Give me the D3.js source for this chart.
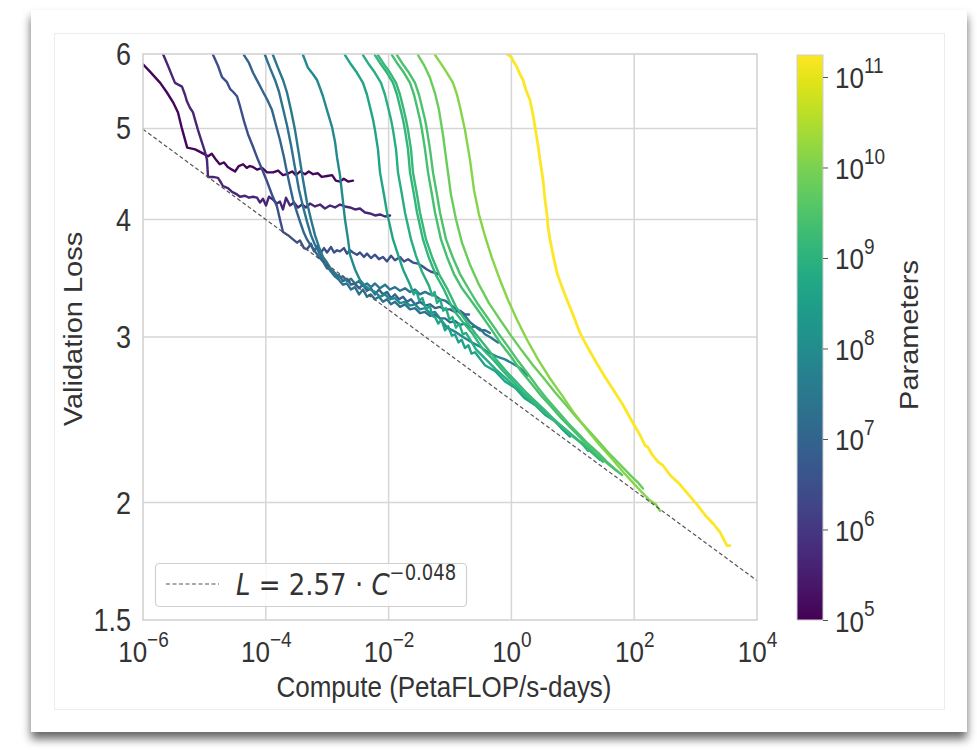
<!DOCTYPE html>
<html><head><meta charset="utf-8">
<script src="https://cdn.jsdelivr.net/npm/d3@7"></script>
<style>
html,body{margin:0;padding:0;background:#fff;}
svg{display:block;}
</style></head>
<body>
<svg id="chart" width="977" height="750"></svg>
<script>
// ---------- DATA ----------
const xTickValues = [1e-6, 1e-4, 1e-2, 1, 1e2, 1e4];
const xTickExp = ["\u22126", "\u22124", "\u22122", "0", "2", "4"];
const yTickValues = [1.5, 2, 3, 4, 5, 6];
const yTickLabels = ["1.5", "2", "3", "4", "5", "6"];
const cbTickValues = [1e5, 1e6, 1e7, 1e8, 1e9, 1e10, 1e11];
const cbTickExp = ["5", "6", "7", "8", "9", "10", "11"];
const fitCompute = [1e-6, 1e4];
const fitLoss = [4.99, 1.652];
const fitLabel = ["L", " = 2.57 \u00b7 ", "C", "\u22120.048"];

// model sizes (parameters), one per run
const modelParams = [1.25e5, 4.7e5, 3.1e6, 9.8e6, 2.1e7, 2.9e7, 8.9e7, 4.3e8, 8.3e8, 1.3e9, 1.5e9, 2.5e9, 3.0e9, 6.6e9, 1.26e10, 1.75e11];

// runs: [log10(compute PF-days), validation loss]
const runA = [[-6.00,5.85],[-5.89,5.75],[-5.72,5.59],[-5.61,5.46],[-5.51,5.33],[-5.43,5.20],[-5.37,5.01],[-5.28,4.77],[-5.15,4.75],[-5.04,4.71],[-4.94,4.67],[-4.88,4.70],[-4.81,4.63],[-4.75,4.58],[-4.68,4.60],[-4.62,4.55],[-4.55,4.52],[-4.50,4.50],[-4.44,4.56],[-4.37,4.58],[-4.31,4.54],[-4.26,4.56],[-4.21,4.55],[-4.14,4.52],[-4.06,4.54],[-3.98,4.49],[-3.88,4.49],[-3.80,4.51],[-3.72,4.46],[-3.66,4.47],[-3.57,4.50],[-3.51,4.46],[-3.44,4.50],[-3.36,4.47],[-3.30,4.50],[-3.23,4.47],[-3.15,4.48],[-3.09,4.44],[-3.00,4.45],[-2.92,4.46],[-2.86,4.40],[-2.79,4.39],[-2.73,4.42],[-2.66,4.39],[-2.58,4.40]];
const runB = [[-5.674,6.0],[-5.593,5.83],[-5.528,5.69],[-5.479,5.59],[-5.365,5.54],[-5.316,5.43],[-5.283,5.34],[-5.235,5.26],[-5.186,5.20],[-5.153,5.11],[-5.104,4.98],[-5.039,4.83],[-4.990,4.72],[-4.958,4.63],[-4.941,4.44],[-4.860,4.44],[-4.779,4.43],[-4.730,4.38],[-4.697,4.34],[-4.616,4.32],[-4.550,4.28],[-4.485,4.26],[-4.420,4.23],[-4.339,4.24],[-4.274,4.22],[-4.208,4.23],[-4.143,4.22],[-4.094,4.17],[-4.046,4.21],[-3.997,4.14],[-3.948,4.23],[-3.883,4.20],[-3.818,4.16],[-3.769,4.18],[-3.720,4.10],[-3.671,4.22],[-3.606,4.14],[-3.541,4.17],[-3.476,4.12],[-3.410,4.15],[-3.345,4.12],[-3.280,4.16],[-3.199,4.13],[-3.117,4.15],[-3.036,4.11],[-2.954,4.14],[-2.873,4.12],[-2.792,4.15],[-2.710,4.13],[-2.629,4.12],[-2.547,4.10],[-2.466,4.11],[-2.384,4.07],[-2.303,4.06],[-2.222,4.04],[-2.140,4.05],[-2.059,4.03],[-1.977,4.04]];
const runC = [[-4.860,5.99],[-4.779,5.83],[-4.713,5.67],[-4.632,5.60],[-4.583,5.51],[-4.534,5.47],[-4.469,5.41],[-4.420,5.28],[-4.355,5.09],[-4.290,4.93],[-4.208,4.78],[-4.127,4.63],[-4.046,4.50],[-3.980,4.39],[-3.899,4.25],[-3.818,4.13],[-3.769,4.00],[-3.720,3.88],[-3.638,3.85],[-3.557,3.81],[-3.492,3.78],[-3.443,3.80],[-3.378,3.73],[-3.329,3.72],[-3.264,3.77],[-3.215,3.70],[-3.166,3.75],[-3.101,3.69],[-3.052,3.73],[-3.003,3.69],[-2.938,3.74],[-2.889,3.69],[-2.840,3.71],[-2.792,3.70],[-2.727,3.73],[-2.678,3.68],[-2.629,3.71],[-2.580,3.69],[-2.515,3.67],[-2.466,3.69],[-2.401,3.65],[-2.352,3.68],[-2.287,3.64],[-2.222,3.67],[-2.157,3.63],[-2.091,3.65],[-2.026,3.61],[-1.961,3.66],[-1.896,3.62],[-1.814,3.65],[-1.749,3.61],[-1.684,3.63],[-1.603,3.60],[-1.521,3.59],[-1.456,3.57],[-1.375,3.54],[-1.309,3.52],[-1.244,3.51],[-1.195,3.50]];
const runD = [[-4.355,5.985],[-4.274,5.87],[-4.208,5.73],[-4.127,5.60],[-4.046,5.47],[-3.980,5.37],[-3.899,5.23],[-3.834,5.04],[-3.769,4.86],[-3.704,4.66],[-3.655,4.49],[-3.606,4.34],[-3.557,4.20],[-3.492,4.07],[-3.443,3.98],[-3.378,3.87],[-3.329,3.81],[-3.264,3.75],[-3.199,3.70],[-3.134,3.65],[-3.069,3.61],[-3.003,3.55],[-2.938,3.54],[-2.873,3.48],[-2.808,3.49],[-2.743,3.44],[-2.678,3.46],[-2.613,3.41],[-2.547,3.42],[-2.482,3.38],[-2.417,3.41],[-2.352,3.36],[-2.287,3.38],[-2.222,3.33],[-2.157,3.37],[-2.091,3.33],[-2.026,3.35],[-1.961,3.30],[-1.896,3.33],[-1.831,3.29],[-1.765,3.31],[-1.700,3.27],[-1.635,3.29],[-1.570,3.25],[-1.489,3.27],[-1.407,3.24],[-1.326,3.25],[-1.244,3.22],[-1.163,3.23],[-1.081,3.21],[-1.000,3.21],[-0.919,3.19],[-0.837,3.20],[-0.756,3.17],[-0.691,3.17]];
const runE = [[-4.013,5.985],[-3.932,5.80],[-3.850,5.63],[-3.785,5.47],[-3.720,5.25],[-3.655,5.04],[-3.590,4.80],[-3.524,4.54],[-3.459,4.30],[-3.394,4.13],[-3.329,3.98],[-3.264,3.85],[-3.199,3.76],[-3.134,3.69],[-3.069,3.62],[-3.003,3.57],[-2.938,3.52],[-2.873,3.48],[-2.808,3.45],[-2.743,3.41],[-2.678,3.42],[-2.613,3.37],[-2.547,3.39],[-2.482,3.33],[-2.417,3.37],[-2.352,3.31],[-2.287,3.33],[-2.222,3.29],[-2.157,3.31],[-2.091,3.27],[-2.026,3.29],[-1.961,3.25],[-1.896,3.27],[-1.814,3.23],[-1.733,3.25],[-1.651,3.21],[-1.570,3.22],[-1.489,3.18],[-1.407,3.19],[-1.326,3.16],[-1.244,3.17],[-1.163,3.14],[-1.081,3.14],[-1.000,3.11],[-0.919,3.12],[-0.837,3.09],[-0.756,3.10],[-0.674,3.07],[-0.593,3.08],[-0.511,3.05],[-0.430,3.05],[-0.349,3.03]];
const runF = [[-3.883,5.985],[-3.801,5.80],[-3.720,5.63],[-3.655,5.46],[-3.590,5.23],[-3.524,4.98],[-3.459,4.69],[-3.394,4.41],[-3.329,4.17],[-3.264,4.00],[-3.199,3.85],[-3.134,3.74],[-3.069,3.65],[-3.003,3.60],[-2.938,3.54],[-2.873,3.51],[-2.808,3.47],[-2.743,3.48],[-2.678,3.44],[-2.613,3.46],[-2.547,3.42],[-2.482,3.44],[-2.417,3.40],[-2.352,3.42],[-2.287,3.39],[-2.222,3.42],[-2.140,3.38],[-2.059,3.41],[-1.977,3.37],[-1.896,3.39],[-1.814,3.36],[-1.733,3.38],[-1.651,3.35],[-1.570,3.37],[-1.489,3.33],[-1.407,3.35],[-1.326,3.33],[-1.244,3.32],[-1.163,3.29],[-1.081,3.28],[-1.000,3.25],[-0.919,3.22],[-0.837,3.18],[-0.756,3.16],[-0.674,3.11],[-0.593,3.08],[-0.511,3.06],[-0.430,3.02],[-0.349,3.00],[-0.284,2.98],[-0.218,2.96]];
const runG = [[-3.394,5.985],[-3.313,5.80],[-3.231,5.71],[-3.166,5.63],[-3.117,5.52],[-3.069,5.41],[-3.003,5.23],[-2.922,5.02],[-2.873,4.84],[-2.840,4.66],[-2.792,4.46],[-2.759,4.27],[-2.710,4.00],[-2.661,3.81],[-2.629,3.67],[-2.547,3.54],[-2.466,3.45],[-2.384,3.40],[-2.303,3.37],[-2.222,3.35],[-2.140,3.31],[-2.059,3.33],[-1.977,3.29],[-1.896,3.30],[-1.814,3.26],[-1.733,3.27],[-1.651,3.24],[-1.570,3.25],[-1.489,3.21],[-1.407,3.22],[-1.326,3.18],[-1.244,3.19],[-1.163,3.14],[-1.049,3.07],[-0.919,3.04],[-0.788,3.00],[-0.642,2.96],[-0.511,2.93],[-0.381,2.89],[-0.235,2.86],[-0.104,2.84],[0.026,2.81],[0.140,2.78],[0.270,2.73]];
const runH = [[-2.710,5.985],[-2.629,5.87],[-2.515,5.73],[-2.417,5.59],[-2.352,5.43],[-2.303,5.27],[-2.254,5.11],[-2.222,4.98],[-2.173,4.75],[-2.140,4.49],[-2.075,4.25],[-2.026,4.07],[-1.928,3.81],[-1.847,3.67],[-1.765,3.54],[-1.651,3.41],[-1.59,3.33],[-1.55,3.36],[-1.50,3.28],[-1.45,3.30],[-1.391,3.21],[-1.33,3.24],[-1.29,3.16],[-1.244,3.15],[-1.19,3.10],[-1.14,3.13],[-1.081,3.05],[-1.03,3.08],[-0.97,3.01],[-0.919,3.02],[-0.86,2.96],[-0.81,2.98],[-0.756,2.92],[-0.70,2.94],[-0.65,2.88],[-0.593,2.89],[-0.430,2.80],[-0.267,2.76],[-0.104,2.69],[0.059,2.65],[0.222,2.58],[0.384,2.54],[0.547,2.48],[0.710,2.44],[0.840,2.39],[0.954,2.35]];
const runI = [[-2.417,5.985],[-2.336,5.87],[-2.222,5.73],[-2.124,5.59],[-2.059,5.43],[-2.010,5.27],[-1.961,5.11],[-1.928,4.98],[-1.879,4.75],[-1.847,4.49],[-1.782,4.25],[-1.733,4.07],[-1.635,3.81],[-1.554,3.66],[-1.456,3.52],[-1.342,3.40],[-1.29,3.32],[-1.25,3.35],[-1.212,3.26],[-1.16,3.29],[-1.11,3.20],[-1.065,3.22],[-1.01,3.13],[-0.96,3.15],[-0.902,3.07],[-0.85,3.10],[-0.79,3.02],[-0.739,3.03],[-0.577,2.91],[-0.414,2.84],[-0.251,2.77],[-0.088,2.71],[0.075,2.65],[0.238,2.59],[0.401,2.54],[0.563,2.49],[0.726,2.44],[0.889,2.39],[1.052,2.34],[1.150,2.31],[1.248,2.27]];
const runJ = [[-2.222,5.985],[-2.140,5.87],[-2.026,5.73],[-1.928,5.59],[-1.863,5.43],[-1.814,5.27],[-1.765,5.11],[-1.733,4.98],[-1.684,4.75],[-1.651,4.49],[-1.586,4.25],[-1.537,4.07],[-1.440,3.81],[-1.342,3.64],[-1.228,3.49],[-1.098,3.37],[-0.951,3.21],[-0.788,3.11],[-0.625,3.02],[-0.463,2.91],[-0.300,2.84],[-0.137,2.76],[0.026,2.69],[0.189,2.62],[0.352,2.56],[0.515,2.50],[0.678,2.45],[0.840,2.40],[1.003,2.35],[1.166,2.31],[1.313,2.26],[1.443,2.22]];
const runK = [[-2.173,5.985],[-2.091,5.87],[-1.977,5.73],[-1.879,5.59],[-1.814,5.43],[-1.765,5.27],[-1.717,5.11],[-1.684,4.98],[-1.635,4.75],[-1.603,4.49],[-1.537,4.25],[-1.489,4.07],[-1.391,3.81],[-1.293,3.65],[-1.179,3.50],[-1.049,3.38],[-0.902,3.23],[-0.739,3.12],[-0.577,3.02],[-0.414,2.93],[-0.251,2.84],[-0.088,2.76],[0.075,2.69],[0.238,2.62],[0.401,2.56],[0.563,2.50],[0.726,2.44],[0.889,2.39],[1.052,2.34],[1.215,2.29],[1.362,2.25],[1.492,2.21]];
const runL = [[-1.945,5.985],[-1.863,5.87],[-1.749,5.73],[-1.651,5.59],[-1.586,5.43],[-1.537,5.27],[-1.489,5.11],[-1.456,4.98],[-1.407,4.75],[-1.358,4.49],[-1.293,4.25],[-1.244,4.07],[-1.147,3.81],[-1.049,3.65],[-0.935,3.50],[-0.805,3.38],[-0.658,3.28],[-0.495,3.17],[-0.332,3.06],[-0.169,2.95],[-0.007,2.86],[0.156,2.76],[0.319,2.68],[0.482,2.60],[0.645,2.53],[0.808,2.46],[0.971,2.40],[1.134,2.34],[1.296,2.28],[1.459,2.23],[1.606,2.19],[1.720,2.16]];
const runM = [[-1.863,5.985],[-1.782,5.87],[-1.668,5.73],[-1.570,5.59],[-1.505,5.43],[-1.456,5.27],[-1.407,5.11],[-1.375,4.98],[-1.326,4.75],[-1.277,4.49],[-1.212,4.25],[-1.163,4.07],[-1.065,3.81],[-0.951,3.64],[-0.837,3.50],[-0.691,3.37],[-0.544,3.25],[-0.381,3.14],[-0.218,3.03],[-0.055,2.93],[0.107,2.83],[0.270,2.74],[0.433,2.65],[0.596,2.57],[0.759,2.50],[0.922,2.43],[1.085,2.37],[1.248,2.31],[1.410,2.26],[1.557,2.21],[1.687,2.17],[1.801,2.14]];
const runN = [[-1.521,5.985],[-1.423,5.84],[-1.326,5.66],[-1.244,5.45],[-1.179,5.23],[-1.114,4.92],[-1.049,4.57],[-0.984,4.25],[-0.902,4.00],[-0.805,3.78],[-0.674,3.58],[-0.528,3.41],[-0.365,3.26],[-0.186,3.13],[-0.007,3.01],[0.173,2.90],[0.352,2.80],[0.531,2.71],[0.710,2.62],[0.889,2.54],[1.068,2.46],[1.248,2.39],[1.427,2.32],[1.606,2.25],[1.785,2.19],[1.964,2.13],[2.062,2.10],[2.143,2.07]];
const runO = [[-1.244,5.985],[-1.147,5.86],[-1.049,5.73],[-0.951,5.59],[-0.886,5.43],[-0.837,5.27],[-0.756,4.98],[-0.674,4.63],[-0.609,4.30],[-0.528,4.05],[-0.430,3.84],[-0.316,3.64],[-0.186,3.45],[-0.055,3.285],[0.091,3.13],[0.254,2.98],[0.433,2.84],[0.629,2.71],[0.824,2.60],[1.020,2.49],[1.231,2.39],[1.443,2.30],[1.655,2.22],[1.834,2.15],[1.980,2.10],[2.127,2.05],[2.257,2.01],[2.355,1.99],[2.420,1.96]];
const runY = [[-0.072,6.0],[-0.007,5.96],[0.042,5.88],[0.091,5.81],[0.140,5.71],[0.189,5.63],[0.238,5.49],[0.303,5.36],[0.352,5.17],[0.384,5.02],[0.433,4.80],[0.466,4.63],[0.515,4.41],[0.547,4.20],[0.580,4.05],[0.596,3.93],[0.629,3.81],[0.678,3.67],[0.743,3.51],[0.824,3.39],[0.906,3.285],[1.003,3.17],[1.117,3.03],[1.248,2.92],[1.394,2.81],[1.524,2.72],[1.655,2.64],[1.818,2.54],[1.980,2.43],[2.094,2.36],[2.176,2.30],[2.225,2.29],[2.290,2.25],[2.388,2.21],[2.469,2.19],[2.583,2.14],[2.746,2.09],[2.909,2.03],[3.023,1.99],[3.153,1.94],[3.283,1.90],[3.397,1.86],[3.511,1.80],[3.560,1.80]];

const runs = [runA, runB, runC, runD, runE, runF, runG, runH, runI, runJ, runK, runL, runM, runN, runO, runY];

// ---------- LAYOUT ----------
const svg = d3.select("#chart");
const plot = {left: 143, right: 757, top: 54, bottom: 620};
const cb = {left: 797, right: 823, top: 55, bottom: 620};
const font = "'Liberation Sans', Arial, Helvetica, sans-serif";
const textColor = "#333";
const FS = 26;       // base font size
const SUP = 19;      // superscript size
const STRETCH = 1.16; // glyphs in the picture are taller than wide

const x = d3.scaleLog().domain([1e-6, 1e4]).range([plot.left, plot.right]);
const y = d3.scaleLog().domain([1.5, 6]).range([plot.bottom, plot.top]);
const cbScale = d3.scaleLog().domain([1e5, 1.75e11]).range([cb.bottom, cb.top]);
const color = d3.scaleSequentialLog(d3.interpolateViridis).domain([1e5, 1.75e11]);

const defs = svg.append("defs");
const f = defs.append("filter").attr("id", "shadow").attr("x", "-5%").attr("y", "-5%").attr("width", "110%").attr("height", "115%");
f.append("feDropShadow").attr("dx", 0).attr("dy", 7).attr("stdDeviation", 5).attr("flood-color", "#000").attr("flood-opacity", 0.6);
defs.append("clipPath").attr("id", "plotclip").append("rect")
  .attr("x", plot.left).attr("y", plot.top).attr("width", plot.right - plot.left).attr("height", plot.bottom - plot.top);

// card
svg.append("rect").attr("x", 31).attr("y", 10).attr("width", 936).attr("height", 722)
  .attr("fill", "#fff").attr("filter", "url(#shadow)");
svg.append("rect").attr("x", 54.5).attr("y", 33.5).attr("width", 890).attr("height", 676)
  .attr("fill", "none").attr("stroke", "#ececec").attr("stroke-width", 1);

// gridlines
const grid = svg.append("g");
grid.selectAll("line.vx").data(xTickValues.slice(1, -1)).join("line")
  .attr("x1", d => x(d)).attr("x2", d => x(d)).attr("y1", plot.top).attr("y2", plot.bottom)
  .attr("stroke", "#d6d6d6").attr("stroke-width", 1.5);
grid.selectAll("line.hy").data(yTickValues.slice(1, -1)).join("line")
  .attr("x1", plot.left).attr("x2", plot.right).attr("y1", d => y(d)).attr("y2", d => y(d))
  .attr("stroke", "#d6d6d6").attr("stroke-width", 1.5);

// curves
const line = d3.line().x(d => x(Math.pow(10, d[0]))).y(d => y(d[1])).curve(d3.curveLinear);
const curves = svg.append("g").attr("clip-path", "url(#plotclip)");
runs.forEach((run, i) => {
  curves.append("path").datum(run).attr("d", line)
    .attr("fill", "none").attr("stroke", color(modelParams[i]))
    .attr("stroke-width", i === runs.length - 1 ? 2.8 : 2.4)
    .attr("stroke-linejoin", "round").attr("stroke-linecap", "round");
});

// fit line
const fitPts = fitCompute.map((c, i) => [c, fitLoss[i]]);
curves.append("path").datum(fitPts)
  .attr("d", d3.line().x(d => x(d[0])).y(d => y(d[1])))
  .attr("fill", "none").attr("stroke", "#555").attr("stroke-width", 1.2).attr("stroke-dasharray", "4,2.5");

// frame
svg.append("rect").attr("x", plot.left).attr("y", plot.top)
  .attr("width", plot.right - plot.left).attr("height", plot.bottom - plot.top)
  .attr("fill", "none").attr("stroke", "#d0d0d0").attr("stroke-width", 1.5);

// axes (via d3 axis, labels customised)
const xAxis = svg.append("g").attr("transform", `translate(0,${plot.bottom})`)
  .call(d3.axisBottom(x).tickValues(xTickValues).tickSize(0).tickFormat(""));
xAxis.select(".domain").remove();
xAxis.selectAll(".tick").each(function(d, i) {
  const t = d3.select(this).append("text").attr("transform", `translate(0,42) scale(1,${STRETCH})`)
    .attr("fill", textColor).attr("font-family", font).attr("font-size", FS).attr("text-anchor", "middle");
  t.append("tspan").text("10");
  t.append("tspan").attr("dy", -13).attr("font-size", SUP).text(xTickExp[i]);
});
const yAxis = svg.append("g").attr("transform", `translate(${plot.left},0)`)
  .call(d3.axisLeft(y).tickValues(yTickValues).tickSize(0).tickFormat(""));
yAxis.select(".domain").remove();
yAxis.selectAll(".tick").append("text").attr("transform", `translate(-12,10.5) scale(1,${STRETCH})`)
  .attr("fill", textColor).attr("font-family", font).attr("font-size", FS + 1)
  .attr("text-anchor", "end").text((d, i) => yTickLabels[i]);

svg.append("text").attr("transform", `translate(444,697) scale(1,${STRETCH})`).attr("text-anchor", "middle")
  .attr("font-family", font).attr("font-size", FS).attr("fill", textColor)
  .text("Compute (PetaFLOP/s-days)");
svg.append("text").attr("transform", `translate(82,329) rotate(-90) scale(${STRETCH},1)`).attr("text-anchor", "middle")
  .attr("font-family", font).attr("font-size", FS - 1).attr("fill", textColor)
  .text("Validation Loss");

// legend
const lg = svg.append("g");
lg.append("rect").attr("x", 155.5).attr("y", 563.5).attr("width", 311).attr("height", 43).attr("rx", 4)
  .attr("fill", "#fff").attr("fill-opacity", 0.85).attr("stroke", "#d0d0d0").attr("stroke-width", 1.2);
lg.append("line").attr("x1", 166).attr("x2", 219).attr("y1", 584).attr("y2", 584)
  .attr("stroke", "#555").attr("stroke-width", 1.2).attr("stroke-dasharray", "4,2.5");
const lt = lg.append("text").attr("transform", `translate(236,595) scale(1,${STRETCH})`)
  .attr("font-family", "'DejaVu Sans', sans-serif").attr("font-size", 26).attr("fill", textColor);
lt.append("tspan").attr("font-style", "italic").text(fitLabel[0]);
lt.append("tspan").text(fitLabel[1]);
lt.append("tspan").attr("font-style", "italic").text(fitLabel[2]);
lt.append("tspan").attr("dy", -13).attr("font-size", 18).text(fitLabel[3]);

// colorbar
const grad = defs.append("linearGradient").attr("id", "cbgrad").attr("x1", 0).attr("y1", 1).attr("x2", 0).attr("y2", 0);
d3.range(0, 1.0001, 0.05).forEach(t => {
  grad.append("stop").attr("offset", t).attr("stop-color", d3.interpolateViridis(t));
});
svg.append("rect").attr("x", cb.left).attr("y", cb.top).attr("width", cb.right - cb.left)
  .attr("height", cb.bottom - cb.top).attr("fill", "url(#cbgrad)")
  .attr("stroke", "#d0d0d0").attr("stroke-width", 1);
const cbAxis = svg.append("g").attr("transform", `translate(${cb.right},0)`)
  .call(d3.axisRight(cbScale).tickValues(cbTickValues).tickSize(5).tickFormat(""));
cbAxis.select(".domain").remove();
cbAxis.selectAll(".tick line").attr("stroke", "#555");
cbAxis.selectAll(".tick").each(function(d, i) {
  const t = d3.select(this).append("text").attr("transform", `translate(12,11) scale(1,${STRETCH})`)
    .attr("fill", textColor).attr("font-family", font).attr("font-size", FS).attr("text-anchor", "start");
  t.append("tspan").text("10");
  t.append("tspan").attr("dy", -13).attr("font-size", SUP).text(cbTickExp[i]);
});
svg.append("text").attr("transform", `translate(918,335) rotate(-90) scale(${STRETCH},1)`).attr("text-anchor", "middle")
  .attr("font-family", font).attr("font-size", FS - 1).attr("fill", textColor)
  .text("Parameters");
</script>
</body></html>
